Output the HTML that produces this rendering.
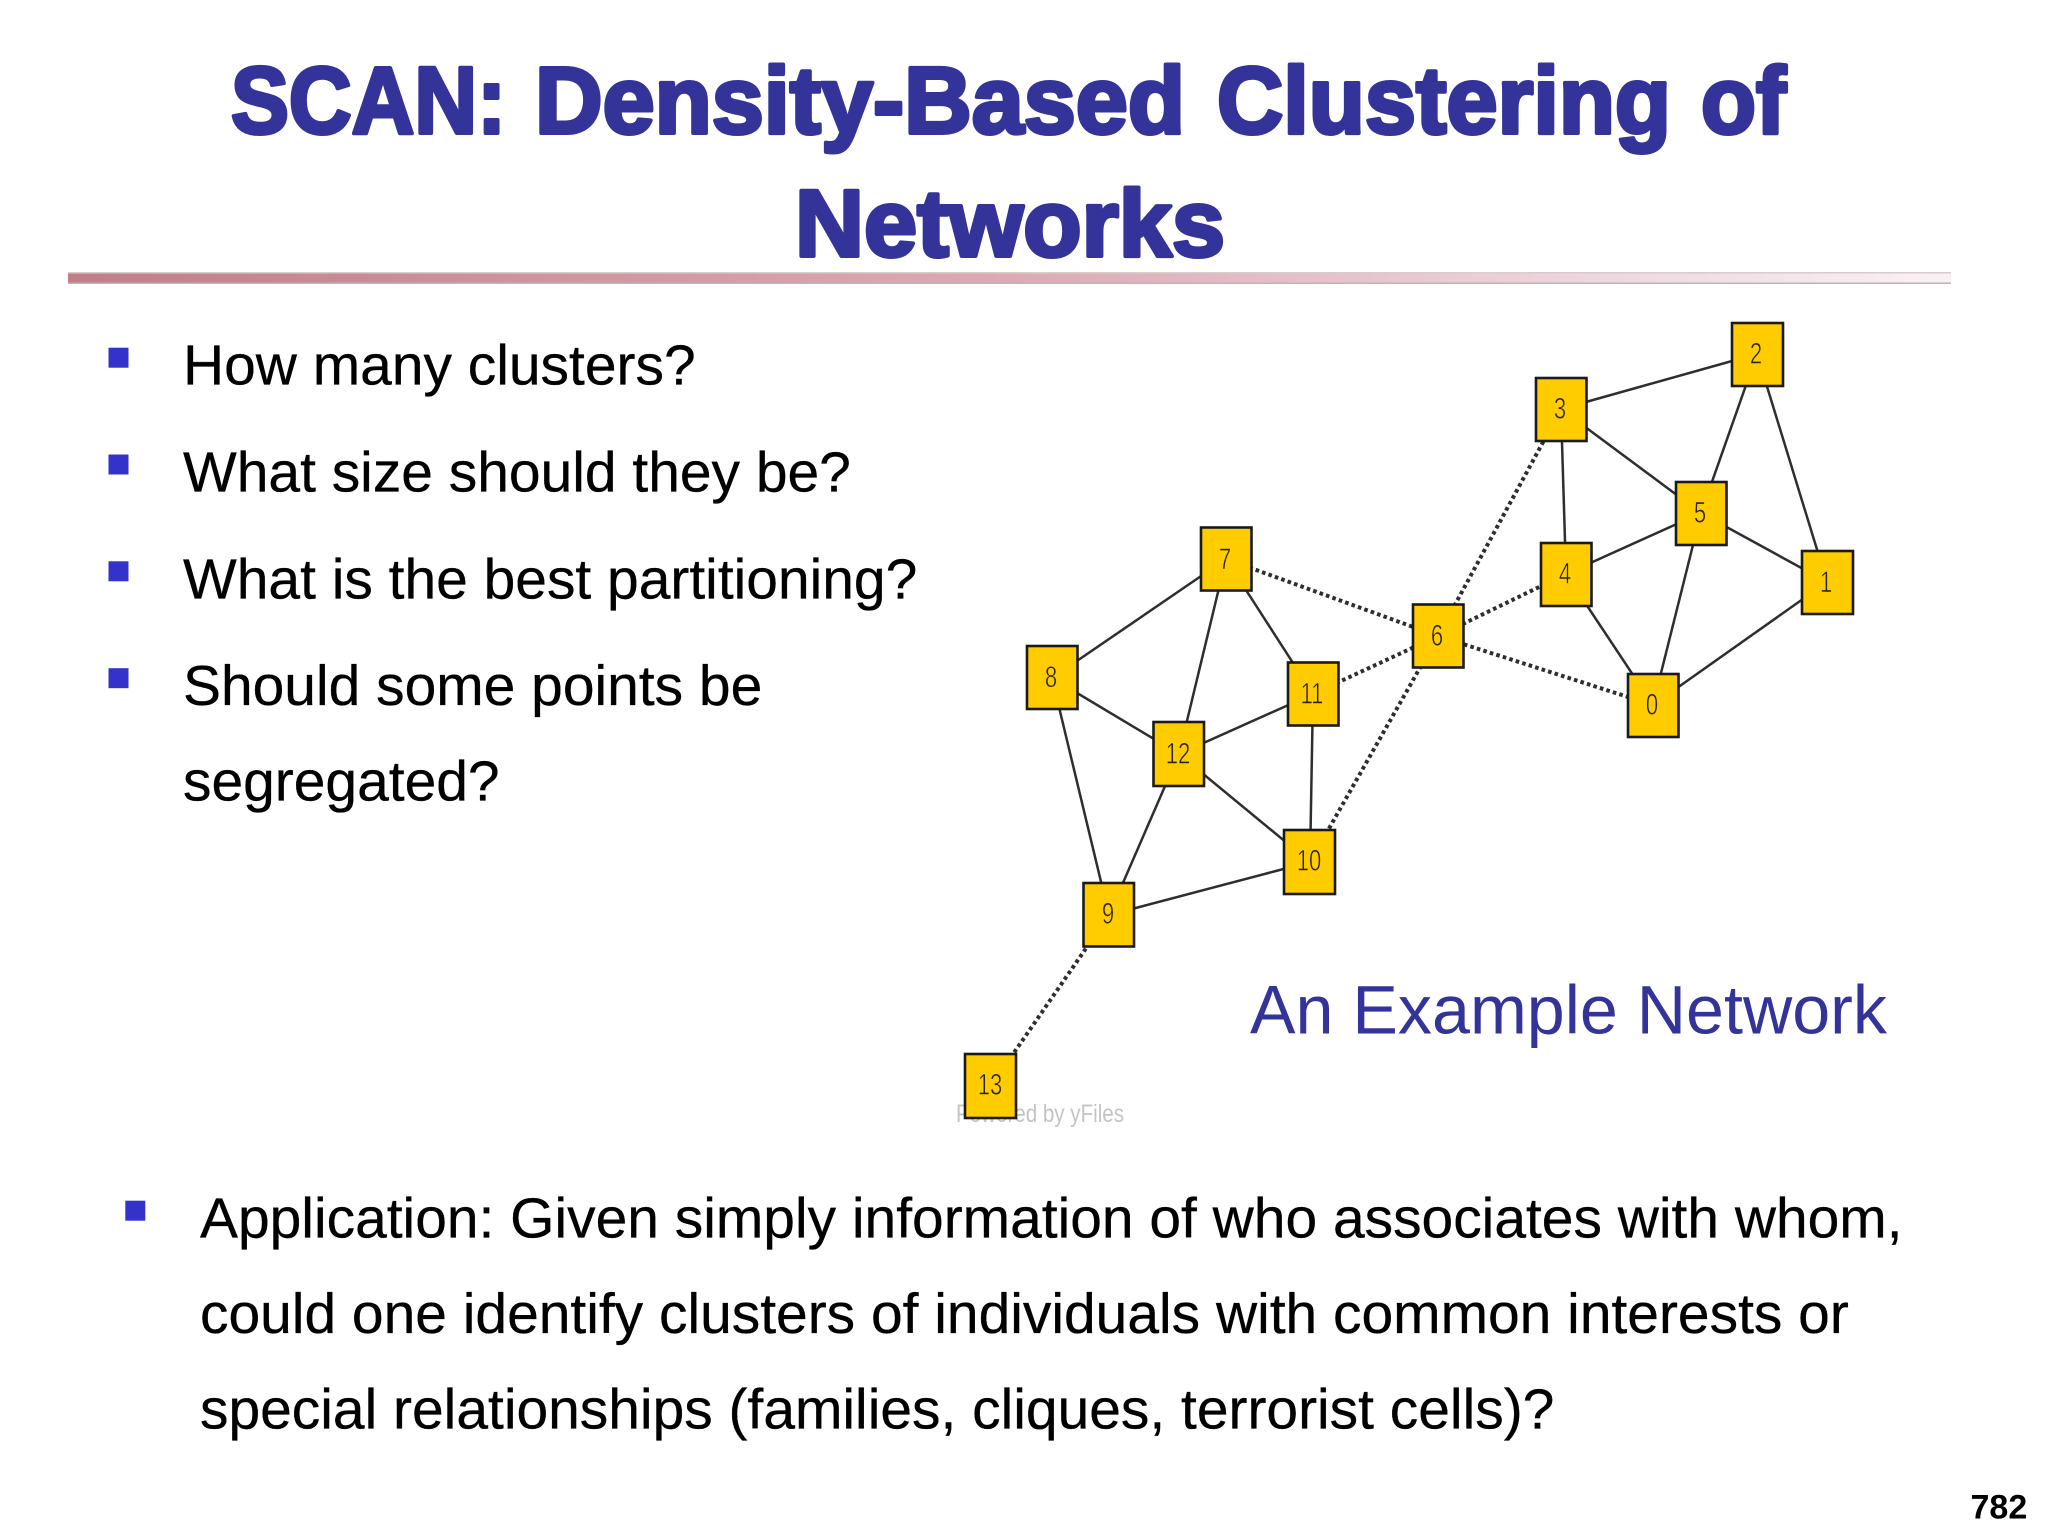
<!DOCTYPE html>
<html><head><meta charset="utf-8"><style>
html,body{margin:0;padding:0;background:#fff;width:2048px;height:1536px;overflow:hidden}
svg{display:block}
.t{font-family:"Liberation Sans",sans-serif;font-size:56.95px;fill:#000;stroke:#000;stroke-width:.3}
.n{fill:#fc0;stroke:#1a1a1a;stroke-width:2.6}
.l{font-family:"Liberation Sans",sans-serif;font-size:29.5px;fill:#2a2200;stroke:#fc0;stroke-width:.6}
.s{stroke:#2e2e2e;stroke-width:2.5;fill:none}
.d{stroke:#2e2e2e;stroke-width:4;stroke-dasharray:3.6 3.2;fill:none}
</style></head><body>
<svg width="2048" height="1536" viewBox="0 0 2048 1536" xmlns="http://www.w3.org/2000/svg">
<defs><linearGradient id="g" x1="0" x2="1" y1="0" y2="0"><stop offset="0" stop-color="#bf7f87"/><stop offset=".5" stop-color="#dbaab6"/><stop offset="1" stop-color="#f9f1f6"/></linearGradient></defs>
<g font-family="'Liberation Sans',sans-serif" font-weight="700" font-size="95" fill="#333399" stroke="#333399" stroke-width="4" stroke-linejoin="round">
<text x="231" y="133" textLength="275" lengthAdjust="spacingAndGlyphs">SCAN:</text>
<text x="535" y="133" textLength="650" lengthAdjust="spacingAndGlyphs">Density-Based</text>
<text x="1217" y="133" textLength="454" lengthAdjust="spacingAndGlyphs">Clustering</text>
<text x="1701" y="133" textLength="85" lengthAdjust="spacingAndGlyphs">of</text>
<text x="795" y="256" textLength="430" lengthAdjust="spacingAndGlyphs">Networks</text>
</g>
<rect x="68" y="272.5" width="1883" height="11" fill="url(#g)"/>
<rect x="68" y="272" width="1883" height="1.5" fill="#d8cccc"/>
<rect x="68" y="282.5" width="1883" height="1.5" fill="#c0b4b4"/>
<g fill="#3333cc">
<rect x="108.5" y="347.7" width="20" height="20"/><rect x="108.5" y="454.5" width="20" height="20"/><rect x="108.5" y="561.3" width="20" height="20"/><rect x="108.5" y="668.2" width="20" height="20"/><rect x="125.3" y="1200.7" width="20" height="20"/>
</g>
<text class="t" x="183" y="384.3">How many clusters?</text>
<text class="t" x="183" y="491.3">What size should they be?</text>
<text class="t" x="183" y="598.3">What is the best partitioning?</text>
<text class="t" x="183" y="705">Should some points be</text>
<text class="t" x="183" y="800.5">segregated?</text>
<text class="t" x="200" y="1237.7">Application: Given simply information of who associates with whom,</text>
<text class="t" x="200" y="1333">could one identify clusters of individuals with common interests or</text>
<text class="t" x="200" y="1428.7">special relationships (families, cliques, terrorist cells)?</text>
<text x="1250" y="1033.5" font-family="'Liberation Sans',sans-serif" font-size="68.3" fill="#333399" textLength="637" lengthAdjust="spacingAndGlyphs">An Example Network</text>
<text x="1970.5" y="1518.7" font-family="'Liberation Sans',sans-serif" font-weight="700" font-size="34" fill="#000">782</text>
<text x="956" y="1122" font-family="'Liberation Sans',sans-serif" font-size="25" fill="#c4c4c4" textLength="168" lengthAdjust="spacingAndGlyphs">Powered by yFiles</text>
<g class="s">
<line x1="1561" y1="409" x2="1757" y2="354"/>
<line x1="1561" y1="409" x2="1701" y2="513"/>
<line x1="1561" y1="409" x2="1566" y2="574"/>
<line x1="1757" y1="354" x2="1701" y2="513"/>
<line x1="1757" y1="354" x2="1827" y2="582"/>
<line x1="1701" y1="513" x2="1566" y2="574"/>
<line x1="1701" y1="513" x2="1827" y2="582"/>
<line x1="1701" y1="513" x2="1653" y2="705"/>
<line x1="1566" y1="574" x2="1653" y2="705"/>
<line x1="1827" y1="582" x2="1653" y2="705"/>
<line x1="1226" y1="559" x2="1052" y2="678"/>
<line x1="1226" y1="559" x2="1179" y2="754"/>
<line x1="1226" y1="559" x2="1313" y2="694"/>
<line x1="1052" y1="678" x2="1179" y2="754"/>
<line x1="1052" y1="678" x2="1109" y2="915"/>
<line x1="1179" y1="754" x2="1313" y2="694"/>
<line x1="1179" y1="754" x2="1109" y2="915"/>
<line x1="1179" y1="754" x2="1310" y2="862"/>
<line x1="1313" y1="694" x2="1310" y2="862"/>
<line x1="1109" y1="915" x2="1310" y2="862"/>
</g>
<g class="d">
<line x1="1438" y1="636" x2="1561" y2="409"/>
<line x1="1438" y1="636" x2="1566" y2="574"/>
<line x1="1438" y1="636" x2="1653" y2="705"/>
<line x1="1438" y1="636" x2="1226" y2="559"/>
<line x1="1438" y1="636" x2="1313" y2="694"/>
<line x1="1438" y1="636" x2="1310" y2="862"/>
<line x1="1109" y1="915" x2="991" y2="1086"/>
</g>
<g class="n">
<rect x="1536" y="378" width="50.5" height="63"/>
<rect x="1732" y="323" width="51" height="63"/>
<rect x="1676" y="482" width="50.5" height="63"/>
<rect x="1541" y="543" width="50.5" height="63"/>
<rect x="1802" y="551" width="51" height="63"/>
<rect x="1628" y="674" width="50.5" height="63"/>
<rect x="1413" y="604.5" width="50.5" height="63"/>
<rect x="1201" y="527.5" width="50.5" height="63"/>
<rect x="1027" y="646" width="50.5" height="63"/>
<rect x="1288" y="662.5" width="50.5" height="63"/>
<rect x="1153.5" y="722" width="50.5" height="64"/>
<rect x="1284" y="830" width="51" height="64"/>
<rect x="1083.5" y="883" width="50.5" height="63.5"/>
<rect x="965" y="1054" width="51" height="64"/>
</g>
<g class="l" text-anchor="middle">
<text transform="translate(1560,418.5) scale(.75,1)">3</text>
<text transform="translate(1756,363.5) scale(.75,1)">2</text>
<text transform="translate(1700,522.5) scale(.75,1)">5</text>
<text transform="translate(1565,583.5) scale(.75,1)">4</text>
<text transform="translate(1826,592) scale(.75,1)">1</text>
<text transform="translate(1652,714.5) scale(.75,1)">0</text>
<text transform="translate(1437,645.5) scale(.75,1)">6</text>
<text transform="translate(1225,569) scale(.75,1)">7</text>
<text transform="translate(1051,687) scale(.75,1)">8</text>
<text transform="translate(1312,703.5) scale(.75,1)">11</text>
<text transform="translate(1178,763.5) scale(.75,1)">12</text>
<text transform="translate(1309,870.5) scale(.75,1)">10</text>
<text transform="translate(1108,923.5) scale(.75,1)">9</text>
<text transform="translate(990,1094.5) scale(.75,1)">13</text>
</g>
</svg>
</body></html>
